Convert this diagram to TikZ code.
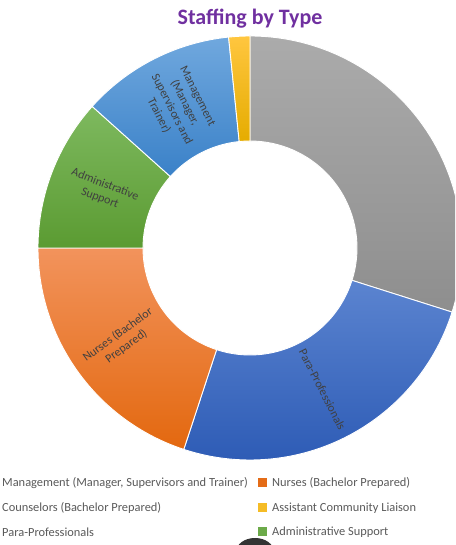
\documentclass[tikz,border=0pt]{standalone}
\usepackage{fontspec}
\setmainfont{Carlito}
\definecolor{titlepurple}{HTML}{7030A0}
\definecolor{labelgray}{HTML}{404040}
\definecolor{legendgray}{HTML}{595959}
\definecolor{grayT}{HTML}{ABABAB}\definecolor{grayB}{HTML}{8E8E8E}
\definecolor{paraT}{HTML}{5B84D0}\definecolor{paraB}{HTML}{2D5BB5}
\definecolor{nurseT}{HTML}{F2935C}\definecolor{nurseB}{HTML}{E3680F}
\definecolor{adminT}{HTML}{7EB95F}\definecolor{adminB}{HTML}{5B9B32}
\definecolor{mgmtT}{HTML}{70A8DE}\definecolor{mgmtB}{HTML}{3A81C8}
\definecolor{liaiT}{HTML}{FFC63F}\definecolor{liaiB}{HTML}{E5AC00}
\newcommand\donutslice[4]{%
  \shade[top color=#3, bottom color=#4, draw=white, line width=0.9pt]
    ([shift={(#1:212)}]C) arc[start angle=#1, end angle=#2, radius=212]
    -- ([shift={(#2:107)}]C) arc[start angle=#2, end angle=#1, radius=107] -- cycle;}
\tikzset{
  slicelabel/.style={font=\fontsize{12}{14.5}\selectfont, text=labelgray, align=center, inner sep=0pt},
  legendtext/.style={font=\fontsize{12.4}{14}\selectfont, text=legendgray, anchor=west, inner sep=0pt},
  legendmark/.style={minimum size=9pt, inner sep=0pt, draw=none}
}
\begin{document}
\begin{tikzpicture}[x=1pt,y=1pt]
\useasboundingbox (0,0) rectangle (455,545);
\clip (0,0) rectangle (455,545);
\coordinate (C) at (250,297);
% slices
\donutslice{90}{-17.6}{grayT}{grayB}
\donutslice{-17.6}{-108.2}{paraT}{paraB}
\donutslice{-108.2}{-180}{nurseT}{nurseB}
\donutslice{180}{138.1}{adminT}{adminB}
\donutslice{138.1}{95.8}{mgmtT}{mgmtB}
\donutslice{95.8}{90}{liaiT}{liaiB}
% slice labels
\node[slicelabel, rotate=-63.1] (lmgmt) at ([shift={(116.9:159)}]C) {Management\\(Manager,\\Supervisors and\\Trainer)};
\node[slicelabel, rotate=-21] (ladmin) at ([shift={(159:158)}]C) {Administrative\\Support};
\node[slicelabel, rotate=35.9] (lnurse) at ([shift={(-144.1:158)}]C) {Nurses (Bachelor\\Prepared)};
\node[slicelabel, rotate=-62.9] (lpara) at ([shift={(-62.9:159)}]C) {Para-Professionals};
% title
\node[font=\fontsize{22}{26}\selectfont\bfseries, text=titlepurple, inner sep=0pt] (title) at (250,526) {Staffing by Type};
% legend
\node[legendtext] (lg1) at (2,62) {Management (Manager, Supervisors and Trainer)};
\node[legendtext] (lg2) at (2,37) {Counselors (Bachelor Prepared)};
\node[legendtext] (lg3) at (2,13) {Para-Professionals};
\node[legendmark, fill=nurseB!90!nurseT] (m4) at (262.5,62) {};
\node[legendmark, fill=liaiT!60!liaiB] (m5) at (262.5,37) {};
\node[legendmark, fill=adminT!50!adminB] (m6) at (262.5,13) {};
\node[legendtext] (lg4) at (272,62) {Nurses (Bachelor Prepared)};
\node[legendtext] (lg5) at (272,37) {Assistant Community Liaison};
\node[legendtext] (lg6) at (272,13) {Administrative Support};
% dark blob at bottom
\fill[black!80] (255,-7) ellipse[x radius=19, y radius=14];
\end{tikzpicture}
\end{document}
